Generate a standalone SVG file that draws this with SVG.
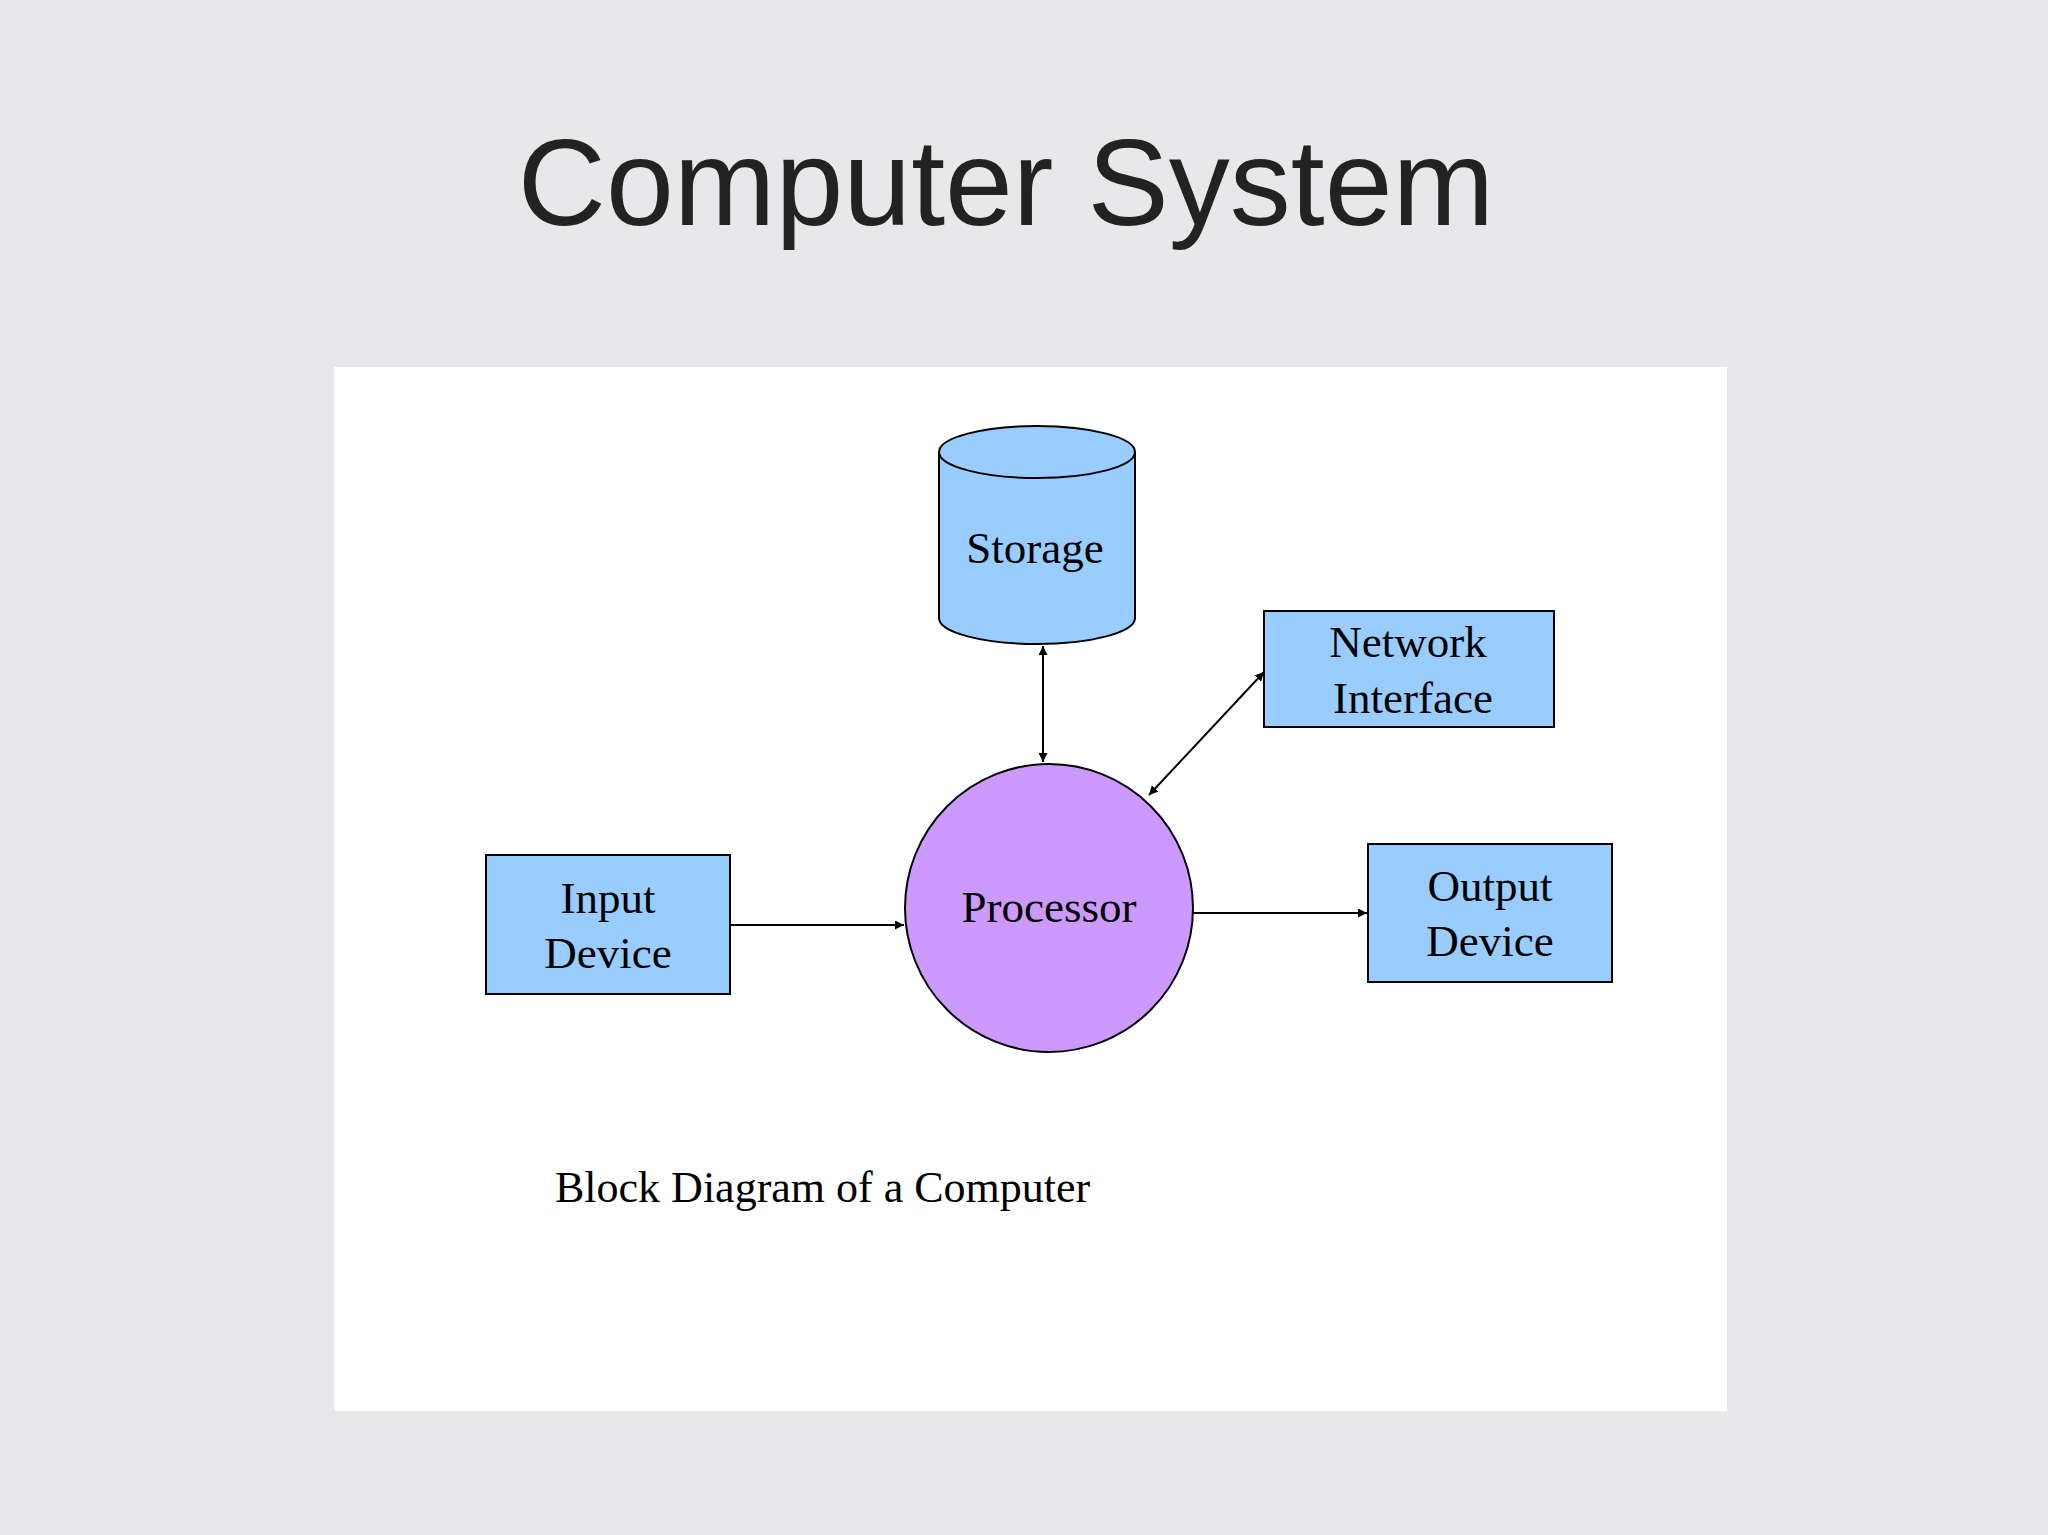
<svg xmlns="http://www.w3.org/2000/svg" width="2048" height="1535" viewBox="0 0 2048 1535">
<style>
.lbl{font-family:"Liberation Serif",serif;font-size:45px;fill:#000;text-anchor:middle}
.box{fill:#99ccff;stroke:#000;stroke-width:2}
.ln{stroke:#000;stroke-width:2;fill:none}
</style>
<defs>
<marker id="ah" viewBox="0 0 10 10" refX="10" refY="5" markerWidth="9" markerHeight="9" markerUnits="userSpaceOnUse" orient="auto-start-reverse"><path d="M0,0L10,5L0,10z" fill="#000"/></marker>
</defs>
<rect width="2048" height="1535" fill="#e8e8ea"/>
<text x="1006" y="225" font-family="Liberation Sans,sans-serif" font-size="122" fill="#222" text-anchor="middle">Computer System</text>
<rect x="334" y="367" width="1393" height="1044" fill="#fff"/>
<g id="storage">
<path class="box" d="M939,452 L939,618 A98,26 0 0 0 1135,618 L1135,452"/>
<ellipse class="box" cx="1037" cy="452" rx="98" ry="26"/>
<text class="lbl" x="1035" y="563">Storage</text>
</g>
<g id="network">
<rect class="box" x="1264" y="611" width="290" height="116"/>
<text class="lbl" x="1408" y="657">Network</text>
<text class="lbl" x="1413" y="713">Interface</text>
</g>
<g id="processor">
<circle cx="1049" cy="908" r="144" fill="#cc99ff" stroke="#000" stroke-width="2"/>
<text class="lbl" x="1049" y="922">Processor</text>
</g>
<g id="input">
<rect class="box" x="486" y="855" width="244" height="139"/>
<text class="lbl" x="608" y="913">Input</text>
<text class="lbl" x="608" y="968">Device</text>
</g>
<g id="output">
<rect class="box" x="1368" y="844" width="244" height="138"/>
<text class="lbl" x="1490" y="901">Output</text>
<text class="lbl" x="1490" y="956">Device</text>
</g>
<g id="connectors">
<line class="ln" x1="1043" y1="646" x2="1043" y2="762" marker-start="url(#ah)" marker-end="url(#ah)"/>
<line class="ln" x1="1264" y1="672" x2="1149" y2="795" marker-start="url(#ah)" marker-end="url(#ah)"/>
<line class="ln" x1="730" y1="925" x2="904" y2="925" marker-end="url(#ah)"/>
<line class="ln" x1="1193" y1="913" x2="1367" y2="913" marker-end="url(#ah)"/>
</g>
<text x="555" y="1202" font-family="Liberation Serif,serif" font-size="44" fill="#000">Block Diagram of a Computer</text>
</svg>
